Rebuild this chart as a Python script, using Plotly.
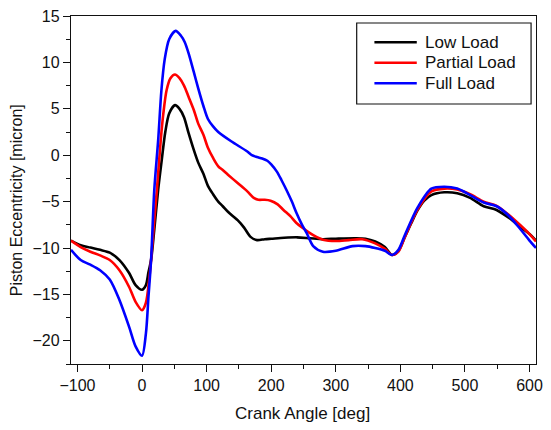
import plotly.graph_objects as go

# Crank angle samples [deg] and piston eccentricity [micron] for each load case
low_angle = [-110, -95, -80, -65, -50, -35, -20, -10, 0, 6, 10, 14, 19, 25, 30, 36, 42, 51,
             58, 65, 72, 80, 87, 95, 102, 110, 118, 125, 133, 148, 158, 168, 178, 190,
             200, 220, 240, 260, 280, 300, 330, 346, 361, 376, 387, 397, 407, 417, 427,
             437, 448, 468, 488, 508, 529, 549, 569, 585, 600, 610]
low_ecc = [-9.2, -9.7, -9.95, -10.2, -10.5, -11.3, -12.7, -14.0, -14.5, -14.0, -12.6, -11.3,
           -8.0, -3.7, -0.8, 2.5, 4.5, 5.4, 5.0, 4.1, 2.4, 0.6, -0.8, -2.0, -3.3, -4.2, -5.0,
           -5.5, -6.1, -7.0, -7.8, -8.8, -9.15, -9.05, -9.0, -8.9, -8.85, -8.95, -9.05, -9.0,
           -8.95, -9.0, -9.3, -9.9, -10.75, -10.3, -8.8, -7.3, -5.9, -4.9, -4.3, -4.0, -4.1,
           -4.6, -5.5, -5.9, -6.8, -7.7, -8.5, -9.2]

partial_angle = [-110, -95, -80, -65, -50, -35, -20, -10, 0, 6, 11, 14, 19, 23, 29, 33, 38,
                 44, 51, 58, 65, 72, 80, 87, 95, 102, 110, 118, 125, 133, 148, 163, 173, 180,
                 190, 199, 210, 219, 230, 239, 250, 260, 270, 280, 300, 320, 341, 361, 376,
                 387, 397, 407, 427, 448, 468, 488, 508, 529, 549, 569, 585, 600, 610]
partial_ecc = [-9.2, -9.9, -10.4, -10.8, -11.3, -12.4, -14.2, -15.8, -16.7, -15.9, -13.4,
               -11.3, -7.0, -3.7, 1.65, 4.5, 7.0, 8.3, 8.7, 8.3, 7.5, 6.3, 4.9, 3.4, 2.2, 0.8,
               -0.3, -1.2, -1.6, -2.1, -3.0, -3.9, -4.6, -4.8, -4.8, -4.9, -5.3, -5.9, -6.6,
               -7.3, -7.9, -8.4, -8.8, -9.1, -9.25, -9.15, -9.05, -9.5, -10.1, -10.75, -10.4,
               -8.8, -5.8, -3.9, -3.6, -3.7, -4.2, -5.0, -5.45, -6.5, -7.5, -8.5, -9.3]

full_angle = [-110, -95, -80, -65, -50, -35, -20, -10, 0, 6, 10, 14, 19, 25, 30, 35, 42, 52,
              60, 66, 72, 80, 87, 95, 102, 110, 118, 138, 163, 170, 178, 186, 194, 200, 209,
              216, 224, 232, 239, 247, 255, 265, 280, 300, 326, 346, 361, 376, 387, 397, 407,
              427, 448, 468, 488, 508, 529, 549, 569, 585, 600, 610]
full_ecc = [-10.2, -11.3, -11.8, -12.4, -13.4, -15.6, -18.5, -20.6, -21.6, -19.2, -15.2,
            -11.3, -3.7, 1.65, 7.0, 10.3, 12.5, 13.4, 12.9, 12.2, 11.0, 9.0, 7.2, 5.3, 3.9,
            3.1, 2.5, 1.5, 0.4, 0.0, -0.2, -0.35, -0.6, -1.0, -1.8, -2.7, -3.8, -5.0, -6.2,
            -7.4, -8.4, -9.8, -10.4, -10.3, -9.8, -9.8, -10.0, -10.3, -10.75, -10.2, -8.6,
            -5.6, -3.6, -3.4, -3.6, -4.3, -5.1, -5.5, -6.6, -7.9, -9.2, -10.0]

series_names = ["Low Load", "Partial Load", "Full Load"]
series_colors = ["#000000", "#ff0000", "#0000ff"]

x_tick_vals = [-100, 0, 100, 200, 300, 400, 500, 600]
y_tick_vals = [-20, -15, -10, -5, 0, 5, 10, 15]

FONT = "Arial, 'Liberation Sans', sans-serif"
INK = "#111111"
LINE_W = 2.6

fig = go.Figure()
for name, color, xs, ys in zip(series_names, series_colors,
                               [low_angle, partial_angle, full_angle],
                               [low_ecc, partial_ecc, full_ecc]):
    fig.add_trace(go.Scatter(
        x=xs, y=ys, name=name, mode="lines", showlegend=False,
        line=dict(color=color, width=LINE_W, shape="spline", smoothing=0.8),
    ))

axis_common = dict(
    showgrid=False, zeroline=False,
    showline=True, linecolor=INK, linewidth=1.3, mirror=True,
    ticks="outside", ticklen=7, tickwidth=1.2, tickcolor=INK,
    tickfont=dict(family=FONT, size=16, color=INK),
)

fig.update_xaxes(
    range=[-110, 610], tickvals=x_tick_vals,
    minor=dict(ticks="outside", ticklen=4, tickwidth=1.2, tickcolor=INK, dtick=50, tick0=0),
    **axis_common,
)
fig.update_yaxes(
    range=[-22.5, 15], tickvals=y_tick_vals,
    minor=dict(ticks="outside", ticklen=4, tickwidth=1.2, tickcolor=INK, dtick=2.5, tick0=0),
    **axis_common,
)

# Compact boxed key in the upper-right corner of the plot area (paper coordinates)
key_box = dict(x0=0.6144, x1=0.9894, y0=0.7471, y1=0.9799)
key_line_x = (0.6525, 0.7436)
key_text_x = 0.7564
key_top_row = 0.9244
key_row_step = 0.0589

shapes = [dict(type="rect", xref="paper", yref="paper", **key_box,
               line=dict(color=INK, width=1.2), fillcolor="rgba(0,0,0,0)")]
annotations = []
for i, (name, color) in enumerate(zip(series_names, series_colors)):
    row_y = key_top_row - i * key_row_step
    shapes.append(dict(type="line", xref="paper", yref="paper",
                       x0=key_line_x[0], x1=key_line_x[1], y0=row_y, y1=row_y,
                       line=dict(color=color, width=LINE_W)))
    annotations.append(dict(text=name, xref="paper", yref="paper",
                            x=key_text_x, y=row_y, xanchor="left", yanchor="middle",
                            showarrow=False, font=dict(family=FONT, size=17, color=INK)))

annotations += [
    dict(text="Crank Angle [deg]", xref="paper", yref="paper",
         x=0.498, y=-0.141, xanchor="center", yanchor="middle", showarrow=False,
         font=dict(family=FONT, size=17, color=INK)),
    dict(text="Piston Eccentricity [micron]", xref="paper", yref="paper",
         x=-0.1165, y=0.470, xanchor="center", yanchor="middle", showarrow=False,
         textangle=-90, font=dict(family=FONT, size=16, color=INK)),
]

fig.update_layout(
    width=551, height=430,
    margin=dict(l=71, r=8, t=16, b=66),
    paper_bgcolor="white", plot_bgcolor="white",
    showlegend=False,
    shapes=shapes,
    annotations=annotations,
)

fig.write_html("out.html")
